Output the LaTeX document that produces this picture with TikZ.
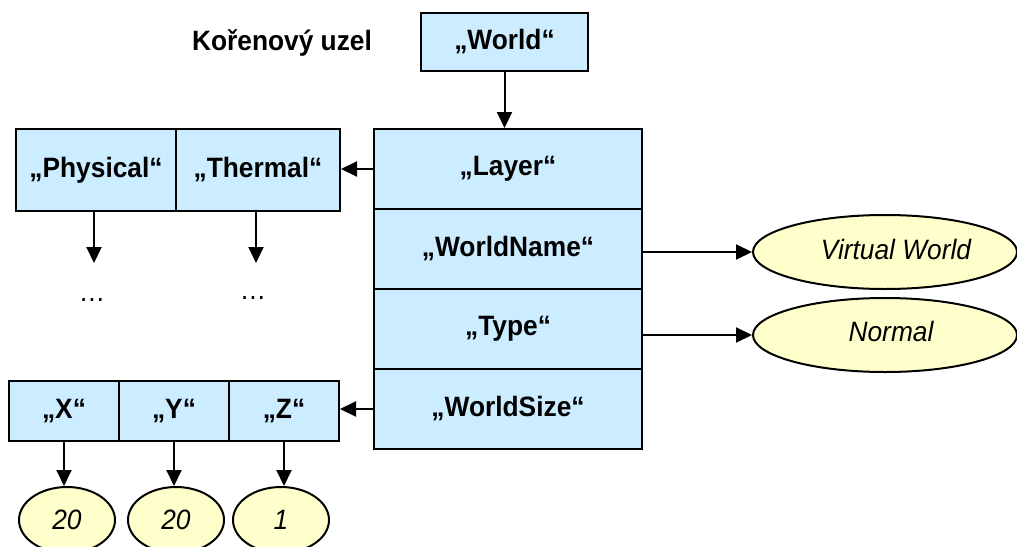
\documentclass[tikz,border=0pt]{standalone}
\usepackage{fontspec}
\setmainfont{Liberation Sans}[FakeStretch=0.94]
\usetikzlibrary{arrows.meta,shapes.geometric}
\definecolor{cellblue}{HTML}{CCECFF}
\definecolor{valyellow}{HTML}{FFFFCC}
\begin{document}
\begin{tikzpicture}[x=1pt,y=-1pt,
  cell/.style={draw=black, line width=2pt, fill=cellblue, rectangle, inner sep=0pt,
    font=\fontsize{28}{32}\selectfont\bfseries},
  value/.style={draw=black, line width=2pt, fill=valyellow, ellipse, inner sep=0pt,
    font=\fontsize{28}{32}\selectfont\itshape},
  vallabel/.style={font=\fontsize{28}{32}\selectfont\itshape},
  link/.style={line width=2pt, -{Triangle[length=16pt,width=15pt]}},
  dotsnode/.style={font=\fontsize{28}{30}\selectfont, inner sep=0pt, anchor=base},
]
\useasboundingbox (0,0) rectangle (1017,546);

% root
\node[font=\fontsize{28}{32}\selectfont\bfseries] (rootlbl) at (282,43) {Kořenový uzel};
\node[cell, minimum width=167pt, minimum height=58pt] (world) at (504.5,42) {„World“};

% main record
\node[cell, minimum width=268pt, minimum height=80pt] (layer) at (508,169) {„Layer“};
\node[cell, minimum width=268pt, minimum height=80pt] (wname) at (508,249) {„WorldName“};
\node[cell, minimum width=268pt, minimum height=80pt] (type)  at (508,329) {„Type“};
\node[cell, minimum width=268pt, minimum height=80pt] (wsize) at (508,409) {„WorldSize“};

% layers
\node[cell, minimum width=160pt, minimum height=82pt] (phys)  at (96,170) {„Physical“};
\node[cell, minimum width=164pt, minimum height=82pt] (therm) at (258,170) {„Thermal“};
\node[dotsnode] (pdots) at (92,301) {\dots};
\node[dotsnode] (tdots) at (253,299) {\dots};
\coordinate (pend) at (94,263);
\coordinate (tend) at (256,263);

% world size
\node[cell, minimum width=110pt, minimum height=60pt] (cx) at (64,411)  {„X“};
\node[cell, minimum width=110pt, minimum height=60pt] (cy) at (174,411) {„Y“};
\node[cell, minimum width=110pt, minimum height=60pt] (cz) at (284,411) {„Z“};

% values
\node[value, minimum width=96pt, minimum height=66pt] (vx) at (67,520)  {20};
\node[value, minimum width=96pt, minimum height=66pt] (vy) at (176,520) {20};
\node[value, minimum width=96pt, minimum height=66pt] (vz) at (281,520) {1};
\node[value, minimum width=264pt, minimum height=74pt,
  label={[vallabel, xshift=11pt, yshift=3pt]center:Virtual World}] (vname) at (885,252) {};
\node[value, minimum width=264pt, minimum height=74pt,
  label={[vallabel, xshift=6pt, yshift=4pt]center:Normal}] (vtype) at (885,335) {};

% connectors
\draw[link] (world.south) -- (world.south |- layer.north);
\draw[link] (layer.west) -- (layer.west -| therm.east);
\draw[link] (pend |- phys.south) -- (pend);
\draw[link] (tend |- therm.south) -- (tend);
\draw[link] (vname.west -| wname.east) -- (vname.west);
\draw[link] (vtype.west -| type.east) -- (vtype.west);
\draw[link] (wsize.west) -- (wsize.west -| cz.east);
\draw[link] (cx.south) -- (cx.south |- vx.north);
\draw[link] (cy.south) -- (cy.south |- vy.north);
\draw[link] (cz.south) -- (cz.south |- vz.north);
\end{tikzpicture}
\end{document}
